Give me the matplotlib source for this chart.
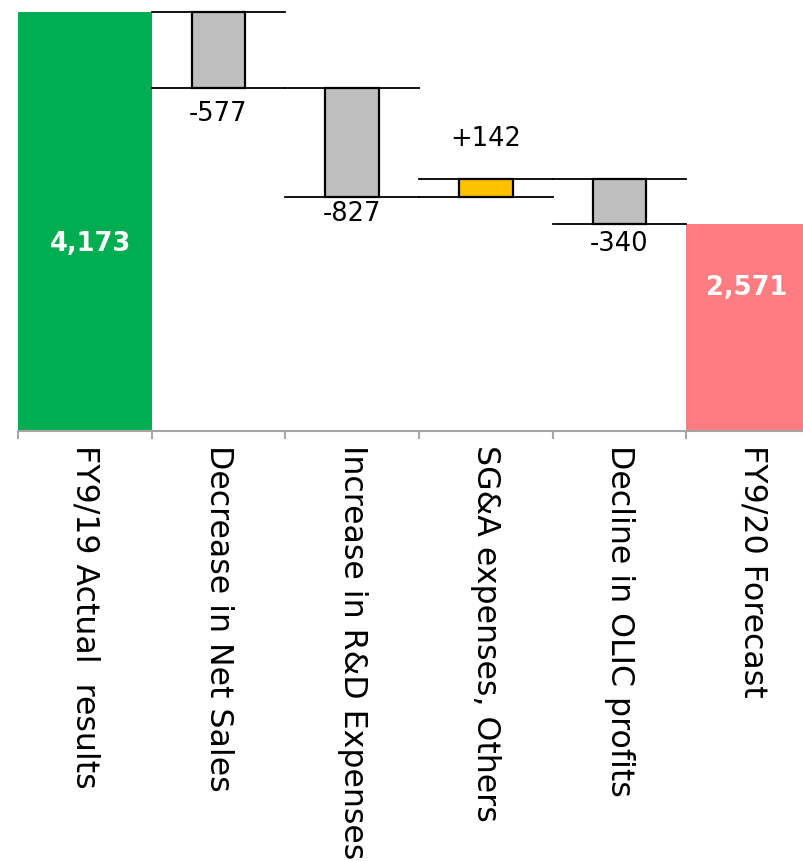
import matplotlib
matplotlib.use("Agg")
import matplotlib.pyplot as plt

# Operating income bridge, FY9/19 actual to FY9/20 forecast
categories = ["FY9/19 Actual  results", "Decrease in Net Sales", "Increase in R&D Expenses",
              "SG&A expenses, Others", "Decline in OLIC profits", "FY9/20 Forecast"]
start_total = 4173
changes = [-577, -827, 142, -340]
end_total = 2571
change_labels = ["-577", "-827", "+142", "-340"]
total_labels = ["4,173", "2,571"]

GREEN = "#00AD50"
RED = "#FF7C80"
GRAY = "#BFBFBF"
GOLD = "#FFC000"
AXIS_GRAY = "#A6A6A6"

fig = plt.figure(figsize=(8.04, 8.61), dpi=100)
ax = fig.add_axes([18 / 804, 430 / 861, 802 / 804, 431 / 861])

ymin = 1000
ymax = 4264
ax.set_ylim(ymin, ymax)
ax.set_xlim(-0.5, len(categories) - 0.5)

# Total bars fill their whole category slot
ax.bar(0, start_total - ymin, bottom=ymin, width=1.0, color=GREEN, zorder=2)
ax.bar(len(categories) - 1, end_total - ymin, bottom=ymin, width=1.0, color=RED, zorder=2)

ax.text(0.04, 2415, total_labels[0], color="white", fontsize=18.5, fontweight="bold",
        ha="center", va="center", zorder=4)
ax.text(len(categories) - 1 - 0.05, 2080, total_labels[1], color="white", fontsize=18.5,
        fontweight="bold", ha="center", va="center", zorder=4)

# Label offsets (points) for the change values
label_offsets = [-9.0, -2.5, 19.5, -5.5]

# Floating change bars with connector lines at both levels
level = start_total
for i, (d, lab, off) in enumerate(zip(changes, change_labels, label_offsets), start=1):
    new_level = level + d
    lo, hi = min(level, new_level), max(level, new_level)
    ax.bar(i, hi - lo, bottom=lo, width=0.4, color=GOLD if d > 0 else GRAY,
           edgecolor="black", linewidth=1.6, zorder=3)
    for y in (level, new_level):
        ax.plot([i - 0.5, i + 0.5], [y, y], color="black", linewidth=1.3, zorder=2)
    if d < 0:
        ax.annotate(lab, (i, lo), xytext=(0, off), textcoords="offset points",
                    ha="center", va="top", fontsize=18.5, color="black")
    else:
        ax.annotate(lab, (i, hi), xytext=(0, off), textcoords="offset points",
                    ha="center", va="bottom", fontsize=18.5, color="black")
    level = new_level

# Axes styling
for side in ("left", "right", "top"):
    ax.spines[side].set_visible(False)
ax.spines["bottom"].set_color(AXIS_GRAY)
ax.spines["bottom"].set_linewidth(1.5)
ax.set_yticks([])

ax.set_xticks(range(len(categories)))
ax.set_xticklabels(categories, rotation=270, fontsize=22.8, ha="center", va="top")
ax.tick_params(axis="x", which="major", length=0, pad=10)
ax.set_xticks([x - 0.5 for x in range(len(categories) + 1)], minor=True)
ax.tick_params(axis="x", which="minor", length=6, width=1.5, color=AXIS_GRAY, direction="out")

fig.savefig("out.png", dpi=100)
